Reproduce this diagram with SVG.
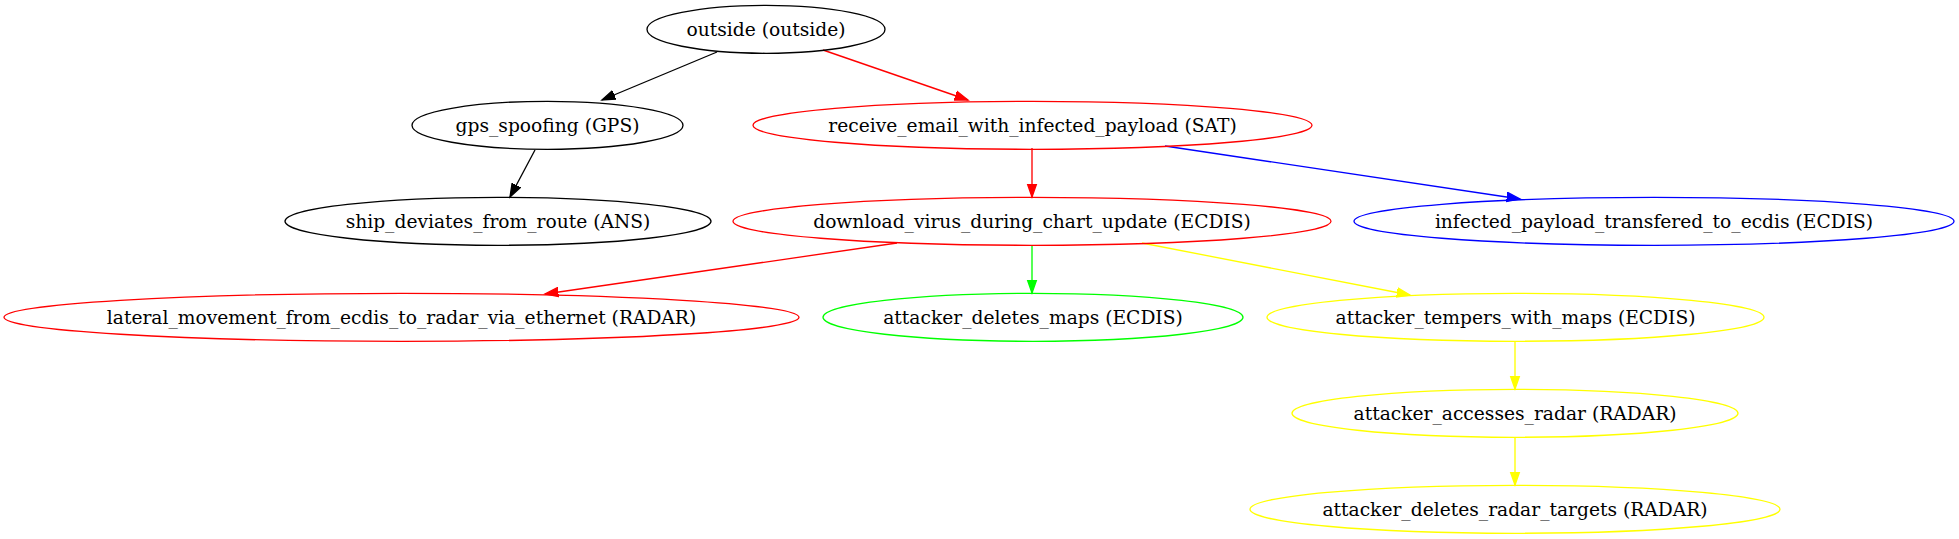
<svg xmlns="http://www.w3.org/2000/svg" width="1959" height="539" viewBox="0 0 1959 539">
<style>
  .n { fill: none; stroke-width: 1.33; }
  .t { font-family: "DejaVu Serif", "Liberation Serif", serif; font-size: 18.67px; text-anchor: middle; fill: #000; }
  .e { fill: none; stroke-width: 1.33; }
  .k { stroke: #000; } .r { stroke: #ff0000; } .b { stroke: #0000ff; } .g { stroke: #00ff00; } .y { stroke: #ffff00; }
</style>
<defs>
  <marker id="ak" markerUnits="userSpaceOnUse" markerWidth="15" markerHeight="12" refX="13.33" refY="0" viewBox="0 -6 15 12" orient="auto"><path d="M0,-4.67 L13.33,0 L0,4.67 z" fill="#000" stroke="#000" stroke-width="1.33"/></marker>
  <marker id="ar" markerUnits="userSpaceOnUse" markerWidth="15" markerHeight="12" refX="13.33" refY="0" viewBox="0 -6 15 12" orient="auto"><path d="M0,-4.67 L13.33,0 L0,4.67 z" fill="#ff0000" stroke="#ff0000" stroke-width="1.33"/></marker>
  <marker id="ab" markerUnits="userSpaceOnUse" markerWidth="15" markerHeight="12" refX="13.33" refY="0" viewBox="0 -6 15 12" orient="auto"><path d="M0,-4.67 L13.33,0 L0,4.67 z" fill="#0000ff" stroke="#0000ff" stroke-width="1.33"/></marker>
  <marker id="ag" markerUnits="userSpaceOnUse" markerWidth="15" markerHeight="12" refX="13.33" refY="0" viewBox="0 -6 15 12" orient="auto"><path d="M0,-4.67 L13.33,0 L0,4.67 z" fill="#00ff00" stroke="#00ff00" stroke-width="1.33"/></marker>
  <marker id="ay" markerUnits="userSpaceOnUse" markerWidth="15" markerHeight="12" refX="13.33" refY="0" viewBox="0 -6 15 12" orient="auto"><path d="M0,-4.67 L13.33,0 L0,4.67 z" fill="#ffff00" stroke="#ffff00" stroke-width="1.33"/></marker>
</defs>
<rect width="1959" height="539" fill="#fff"/>
<g id="connectors">
  <path class="e k" d="M717,52 L602,100" marker-end="url(#ak)"/>
  <path class="e r" d="M823,50 L968,100" marker-end="url(#ar)"/>
  <path class="e k" d="M535,150 L510,197" marker-end="url(#ak)"/>
  <path class="e r" d="M1032,148 L1032,197" marker-end="url(#ar)"/>
  <path class="e b" d="M1165,146 L1520,199" marker-end="url(#ab)"/>
  <path class="e r" d="M897,243 L545,294" marker-end="url(#ar)"/>
  <path class="e g" d="M1032,245 L1032,293" marker-end="url(#ag)"/>
  <path class="e y" d="M1142,243 L1410,295" marker-end="url(#ay)"/>
  <path class="e y" d="M1515,341 L1515,389" marker-end="url(#ay)"/>
  <path class="e y" d="M1515,437 L1515,485" marker-end="url(#ay)"/>
</g>
<g id="outside"><ellipse class="n k" cx="766" cy="29.3" rx="119" ry="24"/><text class="t" x="766" y="35.5">outside (outside)</text></g>
<g id="gps_spoofing"><ellipse class="n k" cx="547.5" cy="125.3" rx="135.5" ry="24"/><text class="t" x="547.5" y="131.5">gps_spoofing (GPS)</text></g>
<g id="receive_email"><ellipse class="n r" cx="1032.5" cy="125.3" rx="279.5" ry="24"/><text class="t" x="1032.5" y="131.5">receive_email_with_infected_payload (SAT)</text></g>
<g id="ship_deviates"><ellipse class="n k" cx="498" cy="221.3" rx="213" ry="24"/><text class="t" x="498" y="227.5">ship_deviates_from_route (ANS)</text></g>
<g id="download_virus"><ellipse class="n r" cx="1032" cy="221.3" rx="299" ry="24"/><text class="t" x="1032" y="227.5">download_virus_during_chart_update (ECDIS)</text></g>
<g id="infected_payload"><ellipse class="n b" cx="1654" cy="221.3" rx="300" ry="24"/><text class="t" x="1654" y="227.5">infected_payload_transfered_to_ecdis (ECDIS)</text></g>
<g id="lateral_movement"><ellipse class="n r" cx="401.5" cy="317.3" rx="397.5" ry="24"/><text class="t" x="401.5" y="323.5">lateral_movement_from_ecdis_to_radar_via_ethernet (RADAR)</text></g>
<g id="attacker_deletes_maps"><ellipse class="n g" cx="1033" cy="317.3" rx="210" ry="24"/><text class="t" x="1033" y="323.5">attacker_deletes_maps (ECDIS)</text></g>
<g id="attacker_tempers_with_maps"><ellipse class="n y" cx="1515.5" cy="317.3" rx="248.5" ry="24"/><text class="t" x="1515.5" y="323.5">attacker_tempers_with_maps (ECDIS)</text></g>
<g id="attacker_accesses_radar"><ellipse class="n y" cx="1515" cy="413.3" rx="223" ry="24"/><text class="t" x="1515" y="419.5">attacker_accesses_radar (RADAR)</text></g>
<g id="attacker_deletes_radar_targets"><ellipse class="n y" cx="1515" cy="509.3" rx="265" ry="24"/><text class="t" x="1515" y="515.5">attacker_deletes_radar_targets (RADAR)</text></g>
</svg>
